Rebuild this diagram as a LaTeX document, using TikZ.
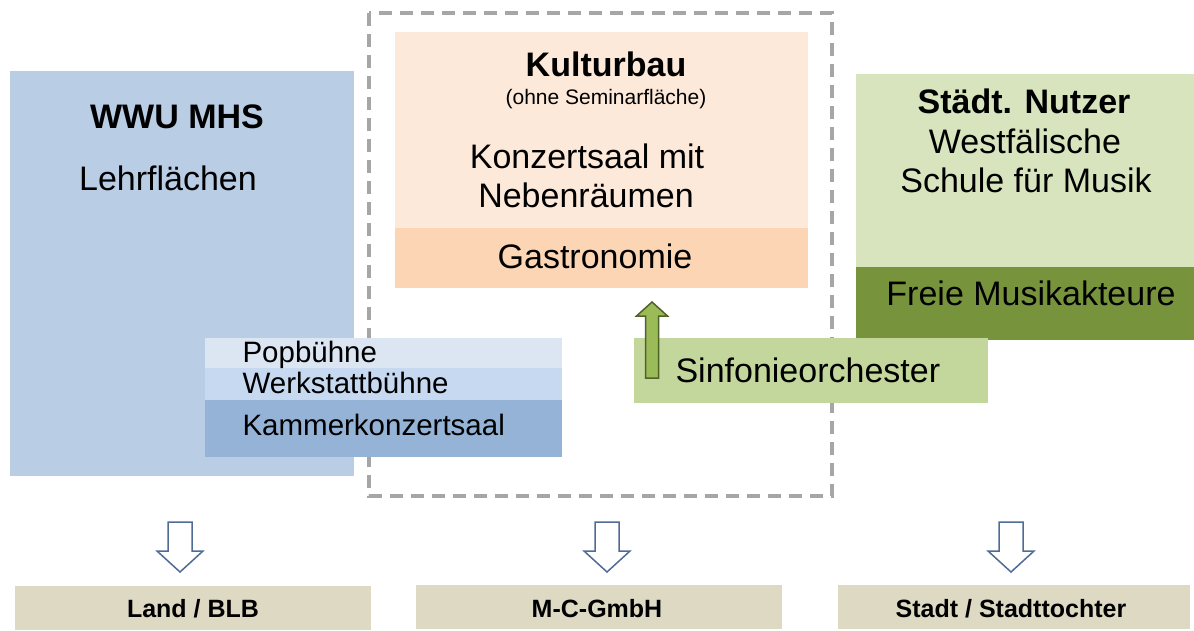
\documentclass[tikz,border=0pt]{standalone}
\usepackage{fontspec}
\setmainfont{Liberation Sans}
\usetikzlibrary{positioning}

\definecolor{wwublue}{HTML}{B9CDE5}
\definecolor{popblue}{HTML}{DCE6F2}
\definecolor{werkblue}{HTML}{C6D9F1}
\definecolor{kammerblue}{HTML}{95B3D7}
\definecolor{kulturpeach}{HTML}{FDE9D9}
\definecolor{gastropeach}{HTML}{FCD5B5}
\definecolor{staedtgreen}{HTML}{D7E4BD}
\definecolor{freiegreen}{HTML}{77933C}
\definecolor{sinfgreen}{HTML}{C3D69B}
\definecolor{arrowgreen}{HTML}{9BBB59}
\definecolor{arrowline}{HTML}{4F6228}
\definecolor{traeger}{HTML}{DDD9C3}
\definecolor{dashgray}{HTML}{A6A6A6}
\definecolor{downline}{RGB}{79,107,150}

\begin{document}
\begin{tikzpicture}[x=1pt,y=-1pt,
    area/.style={rectangle,inner sep=0pt,anchor=north west},
    big/.style={font=\fontsize{34}{38}\selectfont,anchor=base},
    mid/.style={font=\fontsize{29.5}{33}\selectfont,anchor=base west},
    small/.style={font=\fontsize{21}{24}\selectfont,anchor=base},
    owner/.style={font=\fontsize{25}{28}\selectfont\bfseries,anchor=base}]

\useasboundingbox (0,0) rectangle (1194,630);

\node[area,fill=wwublue,minimum width=344pt,minimum height=405pt] (wwu) at (10,71) {};

\draw[dashgray,line width=4pt,dash pattern=on 13pt off 8pt] (369,13) rectangle (832,496);

\foreach \name/\x/\y/\w/\h/\col in {kultur/395/32/413/196/kulturpeach,
    gastro/395/228/413/60/gastropeach,
    staedt/856/74/338/193/staedtgreen,
    freie/856/267/338/73/freiegreen,
    sinf/634/338/354/65/sinfgreen,
    pop/205/338/357/30/popblue,
    werk/205/368/357/32/werkblue,
    kammer/205/400/357/57/kammerblue,
    land/15/586/356/44/traeger,
    mcg/416/585/366/44/traeger,
    stadt/838/585/352/44/traeger} {
    \node[area,fill=\col,minimum width=\w pt,minimum height=\h pt] (\name) at (\x,\y) {};
}

% texts
\node[big] (wwuhead) at (177,128) {\bfseries WWU MHS};
\node[big] (lehr) at (168,190) {Lehrflächen};
\node[big] (kulturhead) at (606,76) {\bfseries Kulturbau};
\node[small] (ohne) at (606,104) {(ohne Seminarfläche)};
\node[big] (konzert) at (587,168) {Konzertsaal mit};
\node[big] (neben) at (586,207) {Nebenräumen};
\node[big] (gastrotext) at (595,268) {Gastronomie};
\node[big] (staedthead) at (1024,113) {\bfseries Städt. Nutzer};
\node[big] (westf) at (1025,153) {Westfälische};
\node[big] (schule) at (1026,192) {Schule für Musik};
\node[big] (freietext) at (1031,305) {Freie Musikakteure};
\node[big,anchor=base west] (sinftext) at (672,382) {Sinfonieorchester};
\node[mid] (poptext) at (239,362) {Popbühne};
\node[mid] (werktext) at (239,393) {Werkstattbühne};
\node[mid] (kammertext) at (239,435) {Kammerkonzertsaal};
\node[owner] (landtext) at (193,617) {Land / BLB};
\node[owner] (mcgtext) at (597,617) {M-C-GmbH};
\node[owner] (stadttext) at (1011,617) {Stadt / Stadttochter};

% block arrows
\foreach \cx in {180,607,1011} {
    \draw[downline,line width=1.5pt,fill=white,line join=miter]
        (\cx-12,522) -- (\cx+12,522) -- (\cx+12,551) -- (\cx+23,551)
        -- (\cx,572) -- (\cx-23,551) -- (\cx-12,551) -- cycle;
}
\draw[arrowline,line width=1.5pt,fill=arrowgreen,line join=miter]
    (645.5,378) -- (658.5,378) -- (658.5,316) -- (667.5,316)
    -- (652,302) -- (636.5,316) -- (645.5,316) -- cycle;
\end{tikzpicture}
\end{document}
